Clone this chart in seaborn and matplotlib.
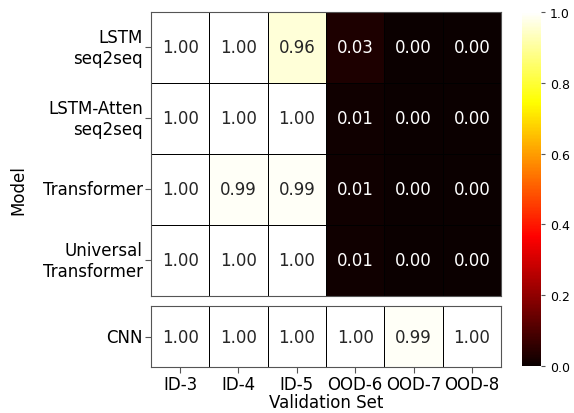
import seaborn as sns
import matplotlib.pyplot as plt
import pandas as pd

val_sets = ['ID-3', 'ID-4', 'ID-5', 'OOD-6', 'OOD-7', 'OOD-8']
seq_models = ['LSTM\nseq2seq', 'LSTM-Atten\nseq2seq', 'Transformer', 'Universal\nTransformer']
lstm = [1.00, 1.00, 0.96, 0.03, 0.00, 0.00]
lstm_atten = [1.00, 1.00, 1.00, 0.01, 0.00, 0.00]
transformer = [1.00, 0.99, 0.99, 0.01, 0.00, 0.00]
universal = [1.00, 1.00, 1.00, 0.01, 0.00, 0.00]
cnn_models = ['CNN']
cnn = [1.00, 1.00, 1.00, 1.00, 0.99, 1.00]

df_top = pd.DataFrame([lstm, lstm_atten, transformer, universal], index=seq_models, columns=val_sets)
df_bot = pd.DataFrame([cnn], index=cnn_models, columns=val_sets)

fig = plt.figure(figsize=(5.74, 4.14), dpi=100)
ax1 = fig.add_axes([0.263, 0.283, 0.610, 0.686])
ax2 = fig.add_axes([0.263, 0.111, 0.610, 0.147])
cax = fig.add_axes([0.909, 0.113, 0.033, 0.856])

kw = dict(cmap='hot', vmin=0, vmax=1, annot=True, fmt='.2f', linewidths=0.6, linecolor='black',
          annot_kws={'size': 12})
sns.heatmap(df_top, ax=ax1, cbar_ax=cax, **kw)
sns.heatmap(df_bot, ax=ax2, cbar=False, **kw)

for ax in (ax1, ax2):
    for s in ax.spines.values():
        s.set_visible(True)
        s.set_color('#555555')
        s.set_linewidth(0.8)
    ax.tick_params(axis='y', labelsize=12, rotation=0, color='#555555', length=4, pad=2)
    ax.set_ylabel('')
    ax.set_xlabel('')
ax1.set_xticks([])
ax2.tick_params(axis='x', labelsize=12, rotation=0, color='#555555', length=4, pad=2)
ax2.set_xlabel('Validation Set', fontsize=12, labelpad=0)

cbar = ax1.collections[0].colorbar
cbar.outline.set_visible(False)
cbar.set_ticks([0, 0.2, 0.4, 0.6, 0.8, 1.0])
cax.tick_params(labelsize=9, color='#555555', length=3)

fig.text(0.032, 0.54, 'Model', rotation=90, fontsize=12, ha='center', va='center')

plt.savefig('out.png', dpi=100)
